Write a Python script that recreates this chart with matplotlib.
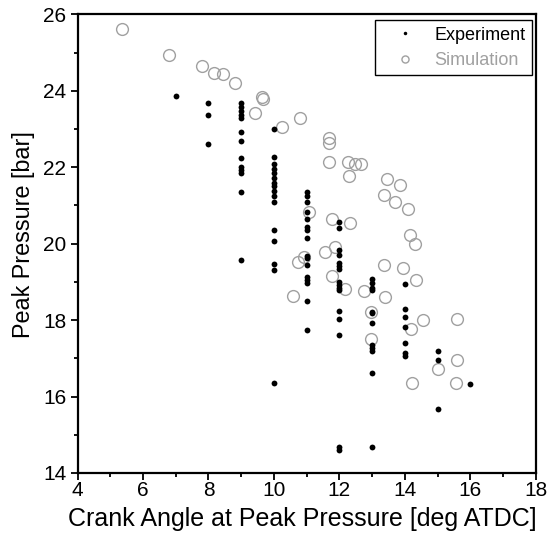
import matplotlib
matplotlib.use('Agg')
import matplotlib.pyplot as plt
from matplotlib.ticker import MultipleLocator

plt.rcParams['font.family'] = ['Liberation Sans', 'DejaVu Sans']

# experiment: crank angle (integer degrees) and peak pressure
exp_x = ([7] + [8] * 3 + [9] * 13 + [10] * 16 + [11] * 16 + [12] * 16
         + [13] * 12 + [14] * 7 + [15] * 3 + [16])
exp_y = [23.87,
         23.68, 23.38, 22.62,
         23.68, 23.58, 23.47, 23.37, 23.30, 22.92, 22.69, 22.25, 22.02, 21.93, 21.85, 21.34, 19.57,
         23.00, 22.28, 22.08, 21.95, 21.85, 21.72, 21.60, 21.50, 21.37, 21.24, 21.09, 20.36, 20.06,
         19.46, 19.30, 16.35,
         21.34, 21.24, 21.08, 20.84, 20.64, 20.43, 20.37, 20.15, 19.68, 19.62, 19.45, 19.14, 19.06,
         18.98, 18.49, 17.75,
         20.56, 20.41, 19.84, 19.71, 19.49, 19.42, 19.34, 19.01, 18.93, 18.84, 18.79, 18.25, 18.03,
         17.61, 14.68, 14.61,
         19.07, 18.97, 18.84, 18.78, 18.22, 18.18, 17.92, 17.35, 17.27, 17.18, 16.61, 14.69,
         18.95, 18.29, 18.09, 17.81, 17.40, 17.14, 17.07,
         17.20, 16.96, 15.67,
         16.32]

# simulation
sim_x = [5.36, 6.80, 7.80, 8.18, 8.45, 8.81, 9.65, 9.67, 9.41, 10.24, 10.79, 11.67, 11.69,
         11.67, 12.25, 12.49, 12.67, 12.30, 13.45, 13.86, 13.35, 13.69, 14.09, 14.15, 14.32,
         11.06, 11.77, 12.33, 11.87, 11.57, 10.93, 10.75, 10.58, 11.77, 12.18, 12.76, 13.35,
         13.94, 14.35, 13.39, 12.98, 14.57, 14.19, 15.61, 12.97, 15.61, 15.02, 14.21, 15.57]
sim_y = [25.63, 24.94, 24.65, 24.47, 24.44, 24.20, 23.85, 23.79, 23.42, 23.06, 23.29, 22.76, 22.63,
         22.14, 22.15, 22.08, 22.08, 21.76, 21.69, 21.54, 21.28, 21.10, 20.91, 20.23, 19.99,
         20.84, 20.64, 20.55, 19.91, 19.77, 19.66, 19.52, 18.62, 19.16, 18.82, 18.77, 19.45,
         19.36, 19.04, 18.60, 18.20, 17.99, 17.77, 18.03, 17.50, 16.95, 16.72, 16.35, 16.35]

gray = '#a0a0a0'

fig = plt.figure(figsize=(5.5, 5.35), dpi=100)
ax = fig.add_axes([0.141, 0.116, 0.833, 0.857])

ax.plot(exp_x, exp_y, 'o', color='black', ms=4.2, mew=0, label='Experiment', zorder=3)
ax.plot(sim_x, sim_y, 'o', mfc='none', mec=gray, ms=8.5, mew=1.0, label='Simulation', zorder=2)

ax.set_xlim(4, 18)
ax.set_ylim(14, 26)
ax.xaxis.set_major_locator(MultipleLocator(2))
ax.xaxis.set_minor_locator(MultipleLocator(1))
ax.yaxis.set_major_locator(MultipleLocator(2))
ax.yaxis.set_minor_locator(MultipleLocator(1))
ax.tick_params(which='both', direction='out', width=1.3, labelsize=15,
               top=False, right=False)
ax.tick_params(which='major', length=5)
ax.tick_params(which='minor', length=3)
ax.tick_params(axis='x', pad=1)
ax.tick_params(axis='y', pad=3)
for s in ax.spines.values():
    s.set_linewidth(1.6)

ax.set_xlabel('Crank Angle at Peak Pressure [deg ATDC]', fontsize=18)
ax.xaxis.set_label_coords(0.491, -0.074)
ax.set_ylabel('Peak Pressure [bar]', fontsize=16.8)
ax.yaxis.set_label_coords(-0.093, 0.52)

leg = ax.legend(loc='upper right', fontsize=13, markerscale=0.6, fancybox=False,
                framealpha=1, edgecolor='black', borderpad=0.35, handlelength=2.6,
                handletextpad=0.35, labelspacing=0.45, borderaxespad=0,
                bbox_to_anchor=(0.992, 0.987))
leg.get_frame().set_linewidth(1.0)
leg.get_texts()[1].set_color(gray)

fig.savefig('out.png', dpi=100)
